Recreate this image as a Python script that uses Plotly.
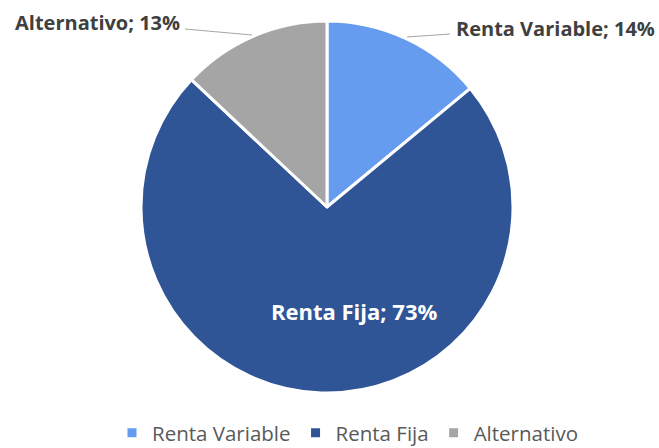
import plotly.graph_objects as go

labels = ["Renta Variable", "Renta Fija", "Alternativo"]
values = [14, 73, 13]
colors = ["#659CEF", "#2F5597", "#A5A5A5"]

W, H = 659, 448
cx, cy, r = 327, 207, 186

fig = go.Figure(go.Pie(
    labels=labels, values=values, sort=False, direction="clockwise", rotation=0,
    marker=dict(colors=colors, line=dict(color="white", width=3)),
    textinfo="none", hoverinfo="label+percent",
    domain=dict(x=[(cx - r) / W, (cx + r) / W], y=[(H - cy - r) / H, (H - cy + r) / H]),
))

def lbl(i):
    return f"{labels[i]}; {values[i]}%"

FONT = "Open Sans"
fig.add_annotation(text=f"<b>{lbl(0)}</b>", x=454 / W, y=1 - 28 / H, xref="paper", yref="paper",
                   xanchor="left", yanchor="middle", showarrow=False,
                   font=dict(family=FONT, size=20, color="#404040"))
fig.add_annotation(text=f"<b>{lbl(2)}</b>", x=182 / W, y=1 - 22 / H, xref="paper", yref="paper",
                   xanchor="right", yanchor="middle", showarrow=False,
                   font=dict(family=FONT, size=20, color="#404040"))
fig.add_annotation(text=f"<b>{lbl(1)}</b>", x=354 / W, y=1 - 311 / H, xref="paper", yref="paper",
                   xanchor="center", yanchor="middle", showarrow=False,
                   font=dict(family=FONT, size=22, color="white"))

fig.add_shape(type="line", xref="paper", yref="paper", x0=185 / W, y0=1 - 29 / H, x1=252 / W, y1=1 - 35 / H,
              line=dict(color="#A6A6A6", width=1.2))
fig.add_shape(type="line", xref="paper", yref="paper", x0=407 / W, y0=1 - 37 / H, x1=450 / W, y1=1 - 34 / H,
              line=dict(color="#A6A6A6", width=1.2))

fig.update_layout(
    width=W, height=H, margin=dict(l=0, r=0, t=0, b=0, autoexpand=False),
    paper_bgcolor="white", plot_bgcolor="white",
    showlegend=True,
    legend=dict(orientation="h", x=(329.5 + 18) / W, xanchor="center", y=1 - 433 / H, yanchor="middle",
                font=dict(family=FONT, size=20.5, color="#595959"), itemwidth=30,
                traceorder="normal"),
)

fig.write_html("out.html")
